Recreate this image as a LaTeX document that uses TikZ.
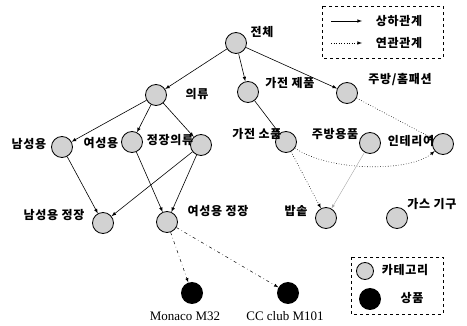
\documentclass[tikz,border=0pt]{standalone}
\usepackage{fontspec}
\setmainfont{Liberation Serif}
\newfontfamily\kor[LetterSpace=6]{Noto Sans CJK KR}
\usetikzlibrary{arrows}
\tikzstyle{cat} = [circle, draw, line width=0.8pt, fill=gray!35, minimum size=21pt, inner sep=0pt]
\tikzstyle{prod} = [circle, fill=black, minimum size=22pt, inner sep=0pt]
\tikzstyle{txt} = [font=\kor\bfseries\fontsize{12}{14}\selectfont, inner sep=0pt]
\tikzstyle{prodtxt} = [font=\fontsize{13}{15}\selectfont, inner sep=0pt]
\tikzstyle{isa} = [->, >=latex, line width=0.6pt]
\tikzstyle{rel} = [->, >=latex, dotted, line width=0.6pt]
\tikzstyle{link} = [->, >=latex, dash pattern=on 3pt off 3pt on 0.5pt off 3pt, line width=0.5pt]

\begin{document}
\begin{tikzpicture}[x=1pt,y=-1pt]
\useasboundingbox (0,0) rectangle (467,326);

% categories
\node[cat] (root) at (236,43) {};
\node[cat] (uiryu) at (156,95) {};
\node[cat] (gajeon) at (248,92) {};
\node[cat] (jubang) at (347,93) {};
\node[cat] (nam) at (62,147) {};
\node[cat] (yeo) at (132,142) {};
\node[cat] (jeongjang) at (201,145) {};
\node[cat] (sopum) at (286,142) {};
\node[cat] (jubangyong) at (370,143) {};
\node[cat] (interior) at (443,144) {};
\node[cat] (namjj) at (103,223) {};
\node[cat] (yeojj) at (167,222) {};
\node[cat] (bapsot) at (326,218) {};
\node[cat] (gas) at (397,218) {};

% products
\node[prod] (monaco) at (192,293) {};
\node[prod] (ccclub) at (288,293) {};

    \node[txt] (troot) at (262,32) {전체};
    \node[txt] (tuiryu) at (197,94) {의류};
    \node[txt] (tgajeon) at (290,83) {가전 제품};
    \node[txt] (tjubang) at (400,80) {주방/홈패션};
    \node[txt] (tnam) at (29,144) {남성용};
    \node[txt] (tyeo) at (101,143) {여성용};
    \node[txt] (tjeongjang) at (170,140) {정장의류};
    \node[txt] (tsopum) at (257,134) {가전 소품};
    \node[txt] (tjubangyong) at (335,134) {주방용품};
    \node[txt] (tinterior) at (411,141) {인테리어};
    \node[txt] (tnamjj) at (54,215) {남성용 정장};
    \node[txt] (tyeojj) at (218,211) {여성용 정장};
    \node[txt] (tbapsot) at (296,211) {밥솥};
    \node[txt] (tgas) at (432,204) {가스 기구};
    \node[prodtxt] (tmonaco) at (185,316) {Monaco M32};
    \node[prodtxt] (tccclub) at (285,316) {CC club M101};

\draw[isa] (root) -- (uiryu);
\draw[isa] (root) -- (gajeon);
\draw[isa] (root) -- (jubang);
\draw[isa] (uiryu) -- (nam);
\draw[isa] (uiryu) -- (yeo);
\draw[isa] (uiryu) -- (jeongjang);
\draw[isa] (gajeon) -- (sopum);
\draw[isa] (nam) -- (namjj);
\draw[isa] (jeongjang) -- (namjj);
\draw[isa] (yeo) -- (yeojj);
\draw[isa] (jeongjang) -- (yeojj);
\draw[isa, gray!70, line width=0.4pt] (jubangyong) -- (bapsot);

\draw[rel] (jubang) -- (interior);
\draw[rel] (sopum) .. controls (330,172) and (410,172) .. (interior);
\draw[rel] (sopum) -- (bapsot);
\draw[link] (yeojj) -- (monaco);
\draw[link] (yeojj) -- (ccclub);

% legends
\draw[dashed, line width=0.5pt] (322,6) rectangle (443,58);
\coordinate (la1) at (331,21);
\coordinate (lb1) at (362,21);
\coordinate (la2) at (331,43);
\coordinate (lb2) at (362,43);
\draw[isa] (la1) -- (lb1);
\draw[rel] (la2) -- (lb2);
\node[txt] (tisa) at (399,21) {상하관계};
\node[txt] (trel) at (399,43) {연관관계};

\draw[dashed, line width=0.5pt] (351,257) rectangle (443,314);
\node[cat, minimum size=17pt] (lcat) at (365,271) {};
\node[prod] (litem) at (370,299) {};
\node[txt] (tcat) at (405,270) {카테고리};
\node[txt] (titem) at (412,298) {상품};
\end{tikzpicture}
\end{document}
